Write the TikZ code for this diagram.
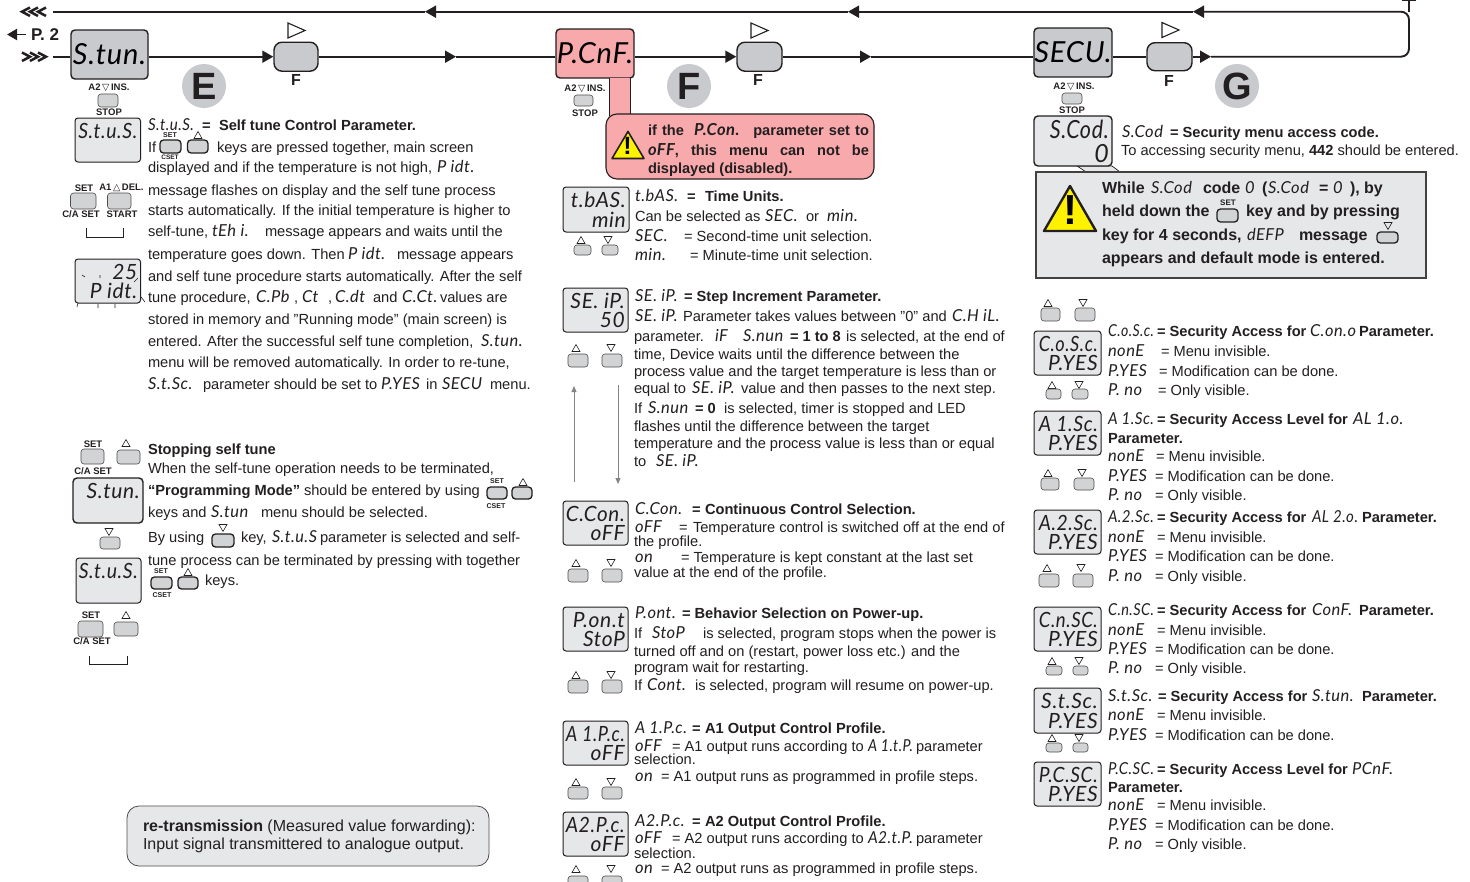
\documentclass[tikz,border=0pt]{standalone}
\usepackage{fontspec}
\usepackage{graphicx}
\usetikzlibrary{arrows.meta,shapes.geometric}
\setmainfont{Liberation Sans}
\newfontfamily\segf[LetterSpace=3]{Lato Italic}
\newfontfamily\djf{DejaVu Sans}
\definecolor{ink}{HTML}{231F20}
\definecolor{boxgray}{HTML}{C8CACD}
\definecolor{lcdgray}{HTML}{E6E7E9}
\definecolor{keygray}{HTML}{D1D3D4}
\definecolor{pinkf}{HTML}{F8A9AC}
\definecolor{warn}{HTML}{FFF200}
\newcount\nodeno
\newsavebox{\fitbox}
\newcommand{\sn}{\global\advance\nodeno by 1\relax}
\newcommand{\nn}{t\the\nodeno}
\newcommand{\bsz}{\fontsize{14.65}{16}\selectfont}
\newcommand{\sg}[1]{{\fontsize{16.5}{18}\segf #1}}
% squeeze a text horizontally to at most a given width
\newcommand{\fitw}[2]{\sbox{\fitbox}{#2}\ifdim\wd\fitbox>#1\relax\resizebox{#1}{\height}{\usebox{\fitbox}}\else\usebox{\fitbox}\fi}
% body text, bold text, seven-segment text: x, baseline y, text
\newcommand{\tl}[3]{\sn\node[txt] (\nn) at (#1,#2) {#3};}
\newcommand{\tb}[3]{\sn\node[txt] (\nn) at (#1,#2) {\bfseries #3};}
\newcommand{\sgl}[3]{\sn\node[txt] (\nn) at (#1,#2) {\sg{#3}};}
\newcommand{\sgw}[4]{\sn\node[txt] (\nn) at (#1,#2) {\fitw{#3pt}{\sg{#4}}};}
% small centred labels
\newcommand{\lb}[3]{\sn\node[lab] (\nn) at (#1,#2) {#3};}
% rounded key x1 y1 x2 y2
\newcommand{\kk}[5][keybtn]{\sn\node[#1,minimum width=#4pt-#2pt,minimum height=#5pt-#3pt] (\nn) at ({(#2+#4)/2},{(#3+#5)/2}) {};}
\newcommand{\tru}[2]{\draw[tri] (#1-4,#2+3.5) -- (#1+4,#2+3.5) -- (#1,#2-3.5) -- cycle;}
\newcommand{\trd}[2]{\draw[tri] (#1-4,#2-3.5) -- (#1+4,#2-3.5) -- (#1,#2+3.5) -- cycle;}
% LCD: x1 y1 x2 y2 row1 row2 fontsize
\newcommand{\lcd}[8][lcdbox]{\sn\node[#1,minimum width=#4pt-#2pt,minimum height=#5pt-#3pt] (\nn) at ({(#2+#4)/2},{(#3+#5)/2}) {};
 \sn\node[lcdrow] (\nn) at (#4-3,#3+13) {\fitw{59pt}{\fontsize{#8}{#8}\segf #6}};
 \sn\node[lcdrow] (\nn) at (#4-3,#5-12) {\fitw{59pt}{\fontsize{#8}{#8}\segf #7}};}
% pair of up/down keys
\newcommand{\udk}[9]{\tru{#1}{#2}\kk{#3}{#4}{#5}{#6}\trd{#7}{#2}\kk{#8}{#4}{#9}{#6}}
\tikzset{
 x=1pt,y=-1pt,
 txt/.style={anchor=base west,inner sep=0,outer sep=0,text=ink,font=\bsz},
 lab/.style={inner sep=0,outer sep=0,text=ink,font=\bfseries\fontsize{9.5}{10}\selectfont},
 flow/.style={draw=ink,line width=1.9pt},
 head/.style={-{Triangle[length=11pt,width=12pt]}},
 menubox/.style={draw=ink,line width=1.4pt,fill=boxgray,rounded corners=4pt,inner sep=0},
 lcdbox/.style={draw=ink,line width=1pt,fill=lcdgray,rounded corners=3pt,inner sep=0},
 lcdrow/.style={anchor=east,inner sep=0,text=ink},
 keybtn/.style={draw=ink!80,line width=.6pt,fill=keygray,rounded corners=3pt,inner sep=0},
 keyin/.style={draw=ink,line width=1.3pt,fill=keygray,rounded corners=3.5pt,inner sep=0},
 keyf/.style={draw=ink,line width=1.4pt,fill=boxgray,rounded corners=8pt,inner sep=0},
 tri/.style={draw=ink,line width=.6pt,line join=miter},
 bigt/.style={draw=ink,line width=1.1pt,line join=miter},
 cir/.style={circle,fill=boxgray,minimum size=44pt,inner sep=0,text=ink,font=\bfseries\fontsize{38}{38}\selectfont},
 fl/.style={inner sep=0,text=ink,font=\bfseries\fontsize{16}{16}\selectfont},
 warnt/.style={draw=ink,fill=warn,line join=round},
 chev/.style={draw=ink,line width=2.5pt},
 grayarr/.style={draw=ink!55,line width=.9pt,-{Triangle[length=6pt,width=5pt]}},
 bracket/.style={draw=ink,line width=.8pt},
}
\begin{document}
\begin{tikzpicture}
\useasboundingbox (0,0) rectangle (1470,881);
\fill[white] (0,0) rectangle (1470,881);
% ---- flow row nodes
\node[menubox,minimum width=77pt,minimum height=49pt] (m1) at (109.5,54.5) {\fontsize{29}{29}\segf S.tun.};
\node[keyf,minimum width=44pt,minimum height=29pt] (f1) at (296,56.7) {};
\node[menubox,fill=pinkf,minimum width=78pt,minimum height=49pt] (m2) at (595,53.5) {\fontsize{29}{29}\segf P.CnF.};
\node[keyf,minimum width=45pt,minimum height=29pt] (f2) at (759.5,56.7) {};
\node[menubox,minimum width=78pt,minimum height=49pt] (m3) at (1073,52.5) {\fontsize{29}{29}\segf SECU.};
\node[keyf,minimum width=45pt,minimum height=28pt] (f3) at (1169.5,56.7) {};
\coordinate (in) at (53,56.7);
\coordinate (a1) at (456,56.7);
\coordinate (a2) at (871,56.7);
\coordinate (a3) at (1211,56.7);
\coordinate (c1) at (1409,56.7);
\coordinate (c2) at (1409,11.7);
\coordinate (b3) at (1193,11.7);
\coordinate (b2) at (848,11.7);
\coordinate (b1) at (425,11.7);
\coordinate (out) at (53,11.7);
\coordinate (tickt) at (1409,0.5);
\draw[flow] (in) -- (in -| m1.west);
\draw[flow,head] (in -| m1.east) -- (f1.west);
\draw[flow,head] (f1.east) -- (a1);
\draw[flow] (a1) -- (a1 -| m2.west);
\draw[flow,head] (a1 -| m2.east) -- (f2.west);
\draw[flow,head] (f2.east) -- (a2);
\draw[flow] (a2) -- (a2 -| m3.west);
\draw[flow] (a3 -| m3.east) -- (f3.west);
\draw[flow,head] (f3.east) -- (a3);
\draw[flow,head,rounded corners=8pt] (a3) -- (c1) -- (c2) -- (b3);
\draw[flow,head] (b3) -- (b2);
\draw[flow,head] (b2) -- (b1);
\draw[flow] (b1) -- (out);
\draw[flow] (c2) -- (tickt);
\draw[flow] (1402,0.5) -- (1416,0.5);
% chevrons
\foreach \x in {22,30,38} {
 \draw[chev] (\x,52.5) -- (\x+8,56.7) -- (\x,61);
 \draw[chev] (\x+8,7.5) -- (\x,11.7) -- (\x+8,16);
}
\draw[flow,-{Triangle[length=10pt,width=11pt]}] (26,34.5) -- (7,34.5);
\node[txt,font=\bfseries\fontsize{17}{17}\selectfont] (p2) at (31,40.5) {P. 2};
\foreach \x/\y in {296/30.5,759/30.5,1170/30} {\draw[bigt,fill=white] (\x-8,\y-7.5) -- (\x+9,\y) -- (\x-8,\y+7.5) -- cycle;}
\node[fl] (fa) at (296,80) {F};
\node[fl] (fb) at (758,80) {F};
\node[fl] (fc) at (1169,81) {F};
\node[cir] (ce) at (204,86) {E};
\node[cir] (cf) at (689,86) {F};
\node[cir] (cg) at (1237,86) {G};
% ---- menu key stacks
\lb{109}{88}{A2{\djf\,▽\,}INS.}\kk{98}{94}{118}{107}\lb{109}{112}{STOP}
\lb{585}{89}{A2{\djf\,▽\,}INS.}\kk{574}{95}{593}{106}\lb{585}{113}{STOP}
\lb{1074}{87}{A2{\djf\,▽\,}INS.}\kk{1062}{93}{1082}{104}\lb{1072}{110}{STOP}
% ---- column 1
\lcd{75}{118}{140.5}{162}{S.t.u.S.}{}{21}
\sgw{148}{130}{46}{S.t.u.S.}\tb{202}{130}{=}\tb{219}{130}{Self tune Control Parameter.}
\tl{148}{152}{If}
\kk[keyin]{160}{140}{181}{153}\lb{170}{135}{\fontsize{7}{7}\selectfont SET}
\lb{170}{156.8}{\fontsize{6.5}{6.5}\selectfont CSET}
\kk[keyin]{187.5}{140}{208}{153}\tru{198}{135}
\tl{217}{152}{keys are pressed together, main screen}
\tl{148}{172}{displayed and if the temperature is not high,}\sgl{437}{172}{P idt.}
\tl{148}{195}{message flashes on display and the self tune process}
\tl{148}{215}{starts automatically. If the initial temperature is higher to}
\tl{148}{236}{self-tune,}\sgl{212}{236}{tEh i.}\tl{265}{236}{message appears and waits until the}
\tl{148}{259}{temperature goes down. Then}\sgl{348}{259}{P idt.}\tl{397}{259}{message appears}
\tl{148}{281}{and self tune procedure starts automatically. After the self}
\tl{148}{302}{tune procedure,}\sgl{256}{302}{C.Pb}\tl{294}{302}{,}\sgl{302}{302}{Ct}\tl{328}{302}{,}\sgl{335}{302}{C.dt}\tl{373}{302}{and}\sgl{402}{302}{C.Ct.}\tl{440}{302}{values are}
\tl{148}{324}{stored in memory and "Running mode" (main screen) is}
\tl{148}{346}{entered.  After the successful self tune completion,}\sgl{481}{346}{S.tun.}
\tl{148}{367}{menu will be removed automatically. In order to re-tune,}
\sgl{148}{389}{S.t.Sc.}\tl{203}{389}{parameter should be set to}\sgl{381}{389}{P.YES}\tl{426}{389}{in}\sgl{442}{389}{SECU}\tl{490}{389}{menu.}
\lb{84}{188}{SET}\lb{121.5}{188}{A1{\djf\,△\,}DEL.}
\kk{70.5}{193}{96}{209}\kk{107.5}{193}{131}{209}
\lb{81}{214}{C/A SET}\lb{122}{214}{START}
\draw[bracket] (86,228) -- (86,237) -- (123,237) -- (123,228);
\lcd{75}{259}{140.5}{303}{25}{P idt.}{21}
\draw[tri] (82,275)--(85,277) (100,275)--(100,278) (134,282)--(138,278) (78,303)--(77,307) (98,304)--(98,308) (115,304)--(115,308) (141,297)--(145,302);
% stopping
\lb{93}{444}{SET}\tru{126}{443}\kk{81}{449}{104}{464}\kk{117}{450}{140}{464}\lb{93}{471}{C/A SET}
\lcd[menubox,fill=lcdgray]{73}{478}{143}{523}{S.tun.}{}{21}
\trd{109}{532}\kk{100}{537}{120}{549}
\lcd{76}{558}{141}{603}{S.t.u.S.}{}{21}
\lb{91}{615}{SET}\tru{126}{615}\kk{78}{621}{103}{637}\kk{114}{622}{138}{636}\lb{92}{641}{C/A SET}
\draw[bracket] (89,656) -- (89,664) -- (127,664) -- (127,656);
\tb{148}{454}{Stopping self tune}
\tl{148}{473}{When the self-tune operation needs to be terminated,}
\tb{148}{495}{“Programming Mode"}\tl{304}{495}{should be entered by using}
\kk[keyin]{487}{487}{507}{499}\lb{497}{481.5}{\fontsize{7}{7}\selectfont SET}\lb{496}{506}{\fontsize{7}{7}\selectfont CSET}
\kk[keyin]{512}{487}{532}{499}\tru{523}{482}
\tl{148}{517}{keys and}\sgl{211}{517}{S.tun}\tl{261}{517}{menu should be selected.}
\tl{148}{542}{By using}\kk[keyin]{212}{534}{234}{547}\trd{223}{528}
\tl{241}{542}{key,}\sgw{272}{542}{45}{S.t.u.S}\tl{320}{542}{parameter is selected and self-}
\tl{148}{565}{tune process can be terminated by pressing with together}
\kk[keyin]{151}{577}{172}{589}\lb{161}{571}{\fontsize{7}{7}\selectfont SET}\lb{162}{595}{\fontsize{7}{7}\selectfont CSET}
\kk[keyin]{178}{577}{198}{589}\tru{188}{572}
\tl{205}{585}{keys.}
% re-transmission
\node[draw=ink!80,line width=.8pt,fill=lcdgray,rounded corners=12pt,minimum width=362pt,minimum height=60pt] (rt) at (308,836) {};
\node[txt,font=\fontsize{16}{16}\selectfont] (rt1) at (143,831) {\textbf{re-transmission} (Measured value forwarding):};
\node[txt,font=\fontsize{16}{16}\selectfont] (rt2) at (143,849) {Input signal transmittered to analogue output.};
% ---- column 2
\fill[pinkf] (609,78) rectangle (630,116);
\draw[ink,line width=1pt] (609,78) -- (609,116) (630,78) -- (630,116);
\node[draw=ink,line width=1.1pt,fill=pinkf,rounded corners=11pt,minimum width=268pt,minimum height=65pt] (warnbox) at (740,146.5) {};
\draw[warnt,line width=1.6pt] (628,131.5) -- (644,158.5) -- (612,158.5) -- cycle;
\node[inner sep=0,font=\bfseries\fontsize{25}{25}\selectfont] (ex1) at (627.5,146) {!};
\node[txt,font=\bfseries\fontsize{14.6}{16}\selectfont] (w1) at (648,135) {\makebox[221pt][s]{if the \ \sg{P.Con.} \ parameter set to}};
\node[txt,font=\bfseries\fontsize{14.6}{16}\selectfont] (w2) at (648,155) {\makebox[221pt][s]{\sg{oFF}, this menu can not be}};
\node[txt,font=\bfseries\fontsize{14.6}{16}\selectfont] (w3) at (648,173) {displayed (disabled).};
\lcd{563}{187}{629}{232}{t.bAS.}{min}{21}
\udk{581}{240}{574}{245}{591}{255}{608}{602}{618}
\sgl{635}{201}{t.bAS.}\tb{687}{201}{=}\tb{705}{201}{Time Units.}
\tl{635}{221}{Can be selected as}\sgl{765}{221}{SEC.}\tl{806}{221}{or}\sgl{827}{221}{min.}
\sgl{635}{241}{SEC.}\tl{684}{241}{= Second-time unit selection.}
\sgl{635}{260}{min.}\tl{690}{260}{= Minute-time unit selection.}
\lcd{563}{288}{628}{332}{SE. iP.}{50}{21}
\udk{576}{348}{568}{354}{588}{367}{611}{602}{622}
\coordinate (ua) at (574,482);\coordinate (ub) at (574,386);\coordinate (da) at (618,385);\coordinate (db) at (618,484);
\draw[grayarr] (ua) -- (ub);\draw[grayarr] (da) -- (db);
\sgl{635}{301}{SE. iP.}\tb{684}{301}{= Step Increment Parameter.}
\sgl{635}{321}{SE. iP.}\tl{683}{321}{Parameter takes values between "0" and}\sgl{952}{321}{C.H iL.}
\tl{634}{341}{parameter.}\sgl{715}{341}{iF}\sgl{743}{341}{S.nun}\tb{790}{341}{= 1 to 8}\tl{846}{341}{is selected, at the end of}
\tl{634}{359}{time, Device waits until the difference between the}
\tl{634}{376}{process value and the target temperature is less than or}
\tl{634}{393}{equal to}\sgl{692}{393}{SE. iP.}\tl{741}{393}{value and then passes to the next step.}
\tl{634}{413}{If}\sgl{648}{413}{S.nun}\tb{695}{413}{= 0}\tl{724}{413}{is selected, timer is stopped and LED}
\tl{634}{431}{flashes until the difference between the target}
\tl{634}{448}{temperature and the process value is less than or equal}
\tl{634}{466}{to}\sgl{656}{466}{SE. iP.}
\lcd{563}{501}{628}{545}{C.Con.}{oFF}{21}
\udk{576}{563}{568}{569}{588}{582}{611}{602}{622}
\sgl{635}{514}{C.Con.}\tb{692}{514}{=}\tb{705}{514}{Continuous Control Selection.}
\sgl{635}{532}{oFF}\tl{679}{532}{=}\tl{693}{532}{Temperature control is switched off at the end of}
\tl{634}{546}{the profile.}
\sgl{635}{562}{on}\tl{681}{562}{= Temperature is kept constant at the last set}
\tl{634}{577}{value at the end of the profile.}
\lcd{563}{607}{628}{651}{P.on.t}{StoP}{21}
\udk{576}{675}{568}{680}{588}{693}{611}{602}{622}
\sgl{635}{618}{P.ont.}\tb{682}{618}{= Behavior Selection on Power-up.}
\tl{634}{638}{If}\sgl{652}{638}{StoP}\tl{703}{638}{is selected, program stops when the power is}
\tl{634}{656}{turned off and on (restart, power loss etc.) and the}
\tl{634}{672}{program wait for restarting.}
\tl{634}{690}{If}\sgl{647}{690}{Cont.}\tl{695}{690}{is selected, program will resume on power-up.}
\lcd{563}{721}{628}{765}{A 1.P.c.}{oFF}{21}
\udk{576}{782}{568}{787}{588}{799}{611}{602}{622}
\sgw{635}{733}{52}{A 1.P.c.}\tb{692}{733}{=}\tb{705}{733}{A1 Output Control Profile.}
\sgl{635}{751}{oFF}\tl{672}{751}{= A1 output runs according to}\sgw{868}{751}{45}{A 1.t.P.}\tl{916}{751}{parameter}
\tl{634}{764}{selection.}
\sgl{635}{781}{on}\tl{661}{781}{= A1 output runs as programmed in profile steps.}
\lcd{563}{812}{628}{856}{A2.P.c.}{oFF}{21}
\udk{576}{869}{568}{876}{588}{886}{611}{602}{622}
\sgw{635}{826}{52}{A2.P.c.}\tb{692}{826}{=}\tb{705}{826}{A2 Output Control Profile.}
\sgl{635}{843}{oFF}\tl{672}{843}{= A2 output runs according to}\sgw{868}{843}{45}{A2.t.P.}\tl{916}{843}{parameter}
\tl{634}{858}{selection.}
\sgl{635}{873}{on}\tl{661}{873}{= A2 output runs as programmed in profile steps.}
% ---- column 3
\fill[lcdgray,draw=ink,line width=.7pt] (1077,166) -- (1086,172) -- (1120,172) -- (1112,166) -- cycle;
\lcd[menubox,fill=lcdgray]{1034}{116}{1112}{166}{S.Cod.}{0}{25}
\sgl{1122}{137}{S.Cod}\tb{1170}{137}{= Security menu access code.}
\tl{1121}{155}{To accessing security menu, \textbf{442} should be entered.}
\node[draw=ink!85,line width=1.1pt,fill=lcdgray,minimum width=390pt,minimum height=106pt] (gb) at (1231,225) {};
\draw[warnt,line width=2.4pt] (1070,186) -- (1096,231) -- (1044,231) -- cycle;
\node[inner sep=0,font=\bfseries\fontsize{42}{42}\selectfont] (ex2) at (1070,210) {!};
\newcommand{\wb}[3]{\sn\node[txt,font=\bfseries\fontsize{16}{17}\selectfont] (\nn) at (#1,#2) {#3};}
\wb{1102}{193}{While}\sgl{1151}{193}{S.Cod}\wb{1203}{193}{code}\sgl{1245}{193}{0}\wb{1262}{193}{(}\sgl{1268}{193}{S.Cod}\wb{1319}{193}{=}\sgl{1333}{193}{0}\wb{1350}{193}{), by}
\wb{1102}{216}{held down the}\kk[keyin]{1217}{209}{1238}{222}\lb{1228}{203}{\fontsize{8}{8}\selectfont SET}\wb{1246}{216}{key and by pressing}
\wb{1102}{240}{key for 4 seconds,}\sgl{1247}{240}{dEFP}\wb{1299}{240}{message}\kk[keyin]{1377}{232}{1398}{243}\trd{1388}{226}
\wb{1102}{263}{appears and default mode is entered.}
% access list
\udk{1048}{303}{1041}{308}{1060}{321}{1083}{1075}{1095}
\lcd{1034}{331}{1101}{375}{C.o.S.c.}{P.YES}{21}
\udk{1052}{385}{1046}{389}{1061}{399}{1079}{1072}{1088}
\sgw{1108}{336}{46}{C.o.S.c.}\tb{1157}{336}{= Security Access for}\sgw{1310}{336}{46}{C.on.o}\tb{1359}{336}{Parameter.}
\sgl{1108}{356}{nonE}\tl{1161}{356}{= Menu invisible.}
\sgl{1108}{376}{P.YES}\tl{1159}{376}{= Modification can be done.}
\sgl{1108}{395}{P. no}\tl{1158}{395}{= Only visible.}
\lcd{1034}{411}{1101}{455}{A 1.Sc.}{P.YES}{21}
\udk{1048}{473}{1041}{478}{1059}{490}{1082}{1074}{1094}
\sgw{1108}{424}{46}{A 1.Sc.}\tb{1157}{424}{= Security Access Level for}\sgl{1353}{424}{AL 1.o.}
\tb{1108}{443}{Parameter.}
\sgl{1108}{461}{nonE}\tl{1156}{461}{= Menu invisible.}
\sgl{1108}{481}{P.YES}\tl{1155}{481}{= Modification can be done.}
\sgl{1108}{500}{P. no}\tl{1155}{500}{= Only visible.}
\lcd{1034}{510}{1101}{554}{A.2.Sc.}{P.YES}{21}
\udk{1047}{568}{1039}{574}{1059}{587}{1081}{1073}{1093}
\sgw{1108}{522}{46}{A.2.Sc.}\tb{1157}{522}{= Security Access for}\sgw{1312}{522}{46}{AL 2.o.}\tb{1362}{522}{Parameter.}
\sgl{1108}{542}{nonE}\tl{1157}{542}{= Menu invisible.}
\sgl{1108}{561}{P.YES}\tl{1155}{561}{= Modification can be done.}
\sgl{1108}{581}{P. no}\tl{1155}{581}{= Only visible.}
\lcd{1034}{607}{1101}{651}{C.n.SC.}{P.YES}{21}
\udk{1052}{661}{1046}{666}{1062}{675}{1079}{1073}{1088}
\sgw{1108}{615}{46}{C.n.SC.}\tb{1157}{615}{= Security Access for}\sgl{1312}{615}{ConF.}\tb{1359}{615}{Parameter.}
\sgl{1108}{635}{nonE}\tl{1157}{635}{= Menu invisible.}
\sgl{1108}{654}{P.YES}\tl{1155}{654}{= Modification can be done.}
\sgl{1108}{673}{P. no}\tl{1155}{673}{= Only visible.}
\lcd{1034}{688}{1101}{733}{S.t.Sc.}{P.YES}{21}
\udk{1052}{738}{1046}{743}{1062}{752}{1079}{1073}{1088}
\sgw{1108}{701}{46}{S.t.Sc.}\tb{1158}{701}{= Security Access for}\sgl{1312}{701}{S.tun.}\tb{1362}{701}{Parameter.}
\sgl{1108}{720}{nonE}\tl{1157}{720}{= Menu invisible.}
\sgl{1108}{740}{P.YES}\tl{1155}{740}{= Modification can be done.}
\lcd{1034}{762}{1101}{806}{P.C.SC.}{P.YES}{21}
\sgw{1108}{774}{46}{P.C.SC.}\tb{1157}{774}{= Security Access Level for}\sgl{1352}{774}{PCnF.}
\tb{1108}{792}{Parameter.}
\sgl{1108}{810}{nonE}\tl{1157}{810}{= Menu invisible.}
\sgl{1108}{830}{P.YES}\tl{1155}{830}{= Modification can be done.}
\sgl{1108}{849}{P. no}\tl{1155}{849}{= Only visible.}
\end{tikzpicture}
\end{document}
